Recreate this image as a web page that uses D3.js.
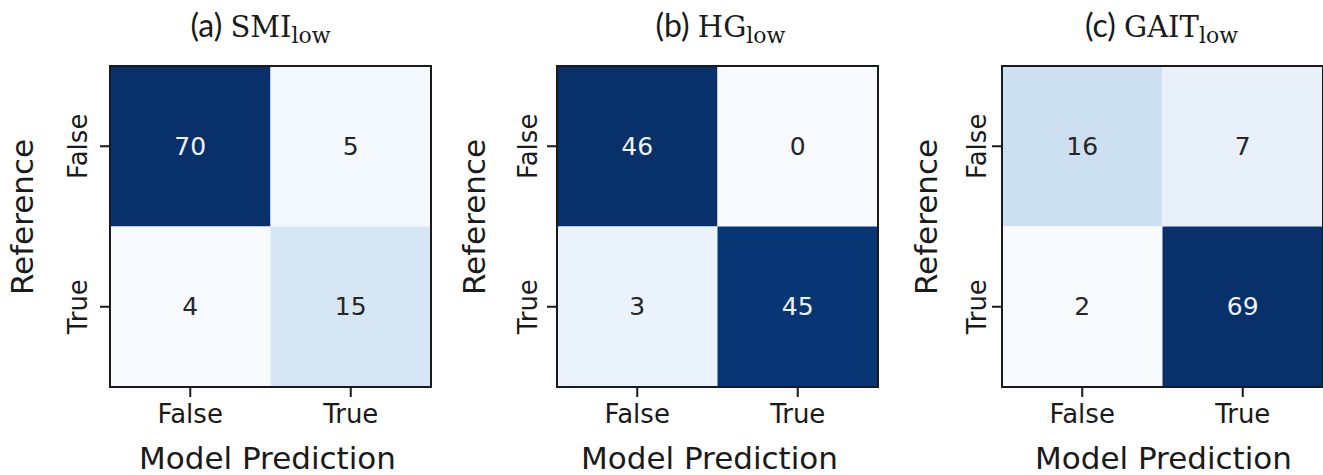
<!DOCTYPE html>
<html>
<head>
<meta charset="utf-8">
<script src="https://cdn.jsdelivr.net/npm/d3@7"></script>
<style>
  html, body { margin: 0; padding: 0; background: #ffffff; }
  svg { display: block; }
</style>
</head>
<body>
<svg id="chart" width="1323" height="475"></svg>
<script>
// ---------------- data ----------------
const predLabels = ["False", "True"];   // x categories (Model Prediction)
const refLabels  = ["False", "True"];   // y categories (Reference)
const panelTags  = ["(a)", "(b)", "(c)"];
const panelNames = ["SMI", "HG", "GAIT"];
const panelSubs  = ["low", "low", "low"];
// rows = Reference (False, True), cols = Prediction (False, True)
const smiValues  = [[70, 5], [4, 15]];
const hgValues   = [[46, 0], [3, 45]];
const gaitValues = [[16, 7], [2, 69]];
const xAxisTitle = "Model Prediction";
const yAxisTitle = "Reference";

// ---------------- layout ----------------
const matrices = [smiValues, hgValues, gaitValues];
const panelLeft = [110, 557, 1002];
const panelTop = 66, panelSize = 321;
const yTitleOffset = [77, 72, 65];
const yTickOffset  = [23, 20, 16];
const titleDx = [-10, 3, -1];
const xTitleDx = [-3, -8, 1];
const tickLen = 10;

const svg = d3.select("#chart");

matrices.forEach((m, i) => {
  const g = svg.append("g").attr("transform", `translate(${panelLeft[i]},${panelTop})`);
  const x = d3.scaleBand().domain(predLabels).range([0, panelSize]);
  const y = d3.scaleBand().domain(refLabels).range([0, panelSize]);
  const flat = m.flat();
  const vmin = d3.min(flat), vmax = d3.max(flat);
  const color = d3.scaleSequential(d3.interpolateBlues).domain([vmin, vmax]);
  const thresh = (vmin + vmax) / 2;

  const cells = [];
  refLabels.forEach((r, ri) => predLabels.forEach((p, pi) => cells.push({r, p, v: m[ri][pi]})));

  g.selectAll("rect.cell").data(cells).join("rect")
    .attr("class", "cell")
    .attr("x", d => x(d.p)).attr("y", d => y(d.r))
    .attr("width", x.bandwidth()).attr("height", y.bandwidth())
    .attr("fill", d => color(d.v));

  g.selectAll("text.val").data(cells).join("text")
    .attr("class", "val")
    .attr("x", d => x(d.p) + x.bandwidth() / 2)
    .attr("y", d => y(d.r) + y.bandwidth() / 2)
    .attr("text-anchor", "middle")
    .attr("dominant-baseline", "central")
    .attr("font-family", "DejaVu Sans, sans-serif")
    .attr("font-size", 25)
    .attr("fill", d => d.v > thresh ? "#eef3fa" : "#262626")
    .text(d => d.v);

  // frame
  g.append("rect")
    .attr("x", 0).attr("y", 0).attr("width", panelSize).attr("height", panelSize)
    .attr("fill", "none").attr("stroke", "#1a1a1a").attr("stroke-width", 2);

  // x axis
  const xAxis = d3.axisBottom(x).tickSize(tickLen).tickPadding(8);
  const gx = g.append("g").attr("transform", `translate(0,${panelSize})`).call(xAxis);
  gx.select(".domain").remove();
  gx.selectAll(".tick line").attr("stroke", "#1a1a1a").attr("stroke-width", 2);
  gx.selectAll(".tick text")
    .attr("font-family", "DejaVu Sans, sans-serif").attr("font-size", 26)
    .attr("fill", "#1a1a1a").attr("dy", null).attr("y", 0)
    .attr("transform", `translate(0,${423 - panelTop - panelSize})`);

  // y axis
  const yAxis = d3.axisLeft(y).tickSize(tickLen).tickFormat(d => d);
  const gy = g.append("g").call(yAxis);
  gy.select(".domain").remove();
  gy.selectAll(".tick line").attr("stroke", "#1a1a1a").attr("stroke-width", 2);
  gy.selectAll(".tick text")
    .attr("x", null).attr("dy", null)
    .attr("text-anchor", "middle")
    .attr("transform", `translate(${-yTickOffset[i]},0) rotate(-90)`)
    .attr("font-family", "DejaVu Sans, sans-serif").attr("font-size", 26)
    .attr("fill", "#1a1a1a");

  // axis titles
  g.append("text")
    .attr("x", panelSize / 2 + xTitleDx[i]).attr("y", 469 - panelTop)
    .attr("text-anchor", "middle")
    .attr("font-family", "DejaVu Sans, sans-serif").attr("font-size", 31)
    .attr("fill", "#1a1a1a")
    .text(xAxisTitle);

  g.append("text")
    .attr("transform", `translate(${-yTitleOffset[i]},${217 - panelTop}) rotate(-90)`)
    .attr("text-anchor", "middle")
    .attr("font-family", "DejaVu Sans, sans-serif").attr("font-size", 31)
    .attr("fill", "#1a1a1a")
    .text(yAxisTitle);

  // panel title
  const t = g.append("text")
    .attr("x", panelSize / 2 + titleDx[i]).attr("y", 37 - panelTop)
    .attr("text-anchor", "middle")
    .attr("fill", "#1a1a1a");
  t.append("tspan").attr("font-family", "Lato, Open Sans, sans-serif").attr("font-size", 32)
    .text(panelTags[i] + " ");
  t.append("tspan").attr("font-family", "DejaVu Serif, serif").attr("font-size", 29)
    .text(panelNames[i]);
  t.append("tspan").attr("font-family", "DejaVu Serif, serif").attr("font-size", 22)
    .attr("dy", 6).text(panelSubs[i]);
});
</script>
</body>
</html>
